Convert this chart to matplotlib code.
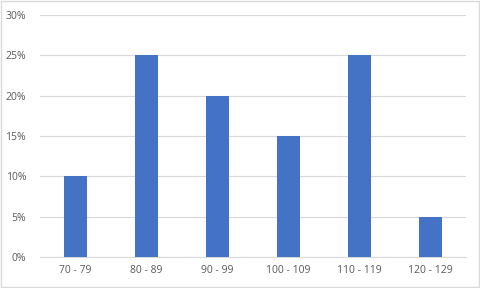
import matplotlib.pyplot as plt
from matplotlib.patches import Rectangle
from matplotlib.ticker import PercentFormatter

# Score ranges and share of students in each
categories = ['70 - 79', '80 - 89', '90 - 99', '100 - 109', '110 - 119', '120 - 129']
shares = [10, 25, 20, 15, 25, 5]
y_ticks = [0, 5, 10, 15, 20, 25, 30]

fig = plt.figure(figsize=(4.8, 2.88), dpi=100)
ax = fig.add_axes([0.0833, 0.1076, 0.8875, 0.8404])

x = list(range(len(categories)))
ax.bar(x, shares, width=0.32, color='#4472C4', zorder=3)

ax.set_xlim(-0.5, len(categories) - 0.5)
ax.set_ylim(0, 30)
ax.set_yticks(y_ticks)
ax.yaxis.set_major_formatter(PercentFormatter(decimals=0))
ax.set_xticks(x)
ax.set_xticklabels(categories)

ax.grid(axis='y', color='#D9D9D9', linewidth=0.8, zorder=0)
for side in ['top', 'right', 'left']:
    ax.spines[side].set_visible(False)
ax.spines['bottom'].set_color('#D9D9D9')
ax.tick_params(axis='both', length=0, labelsize=7.5, colors='#595959', pad=6)
ax.tick_params(axis='y', pad=10)
for lab in ax.get_xticklabels() + ax.get_yticklabels():
    lab.set_fontfamily('Open Sans')

# light chart-area border
fig.patches.append(Rectangle((0.002, 0.003), 0.996, 0.994, transform=fig.transFigure,
                             fill=False, edgecolor='#D9D9D9', linewidth=1))

fig.savefig('out.png', dpi=100)
